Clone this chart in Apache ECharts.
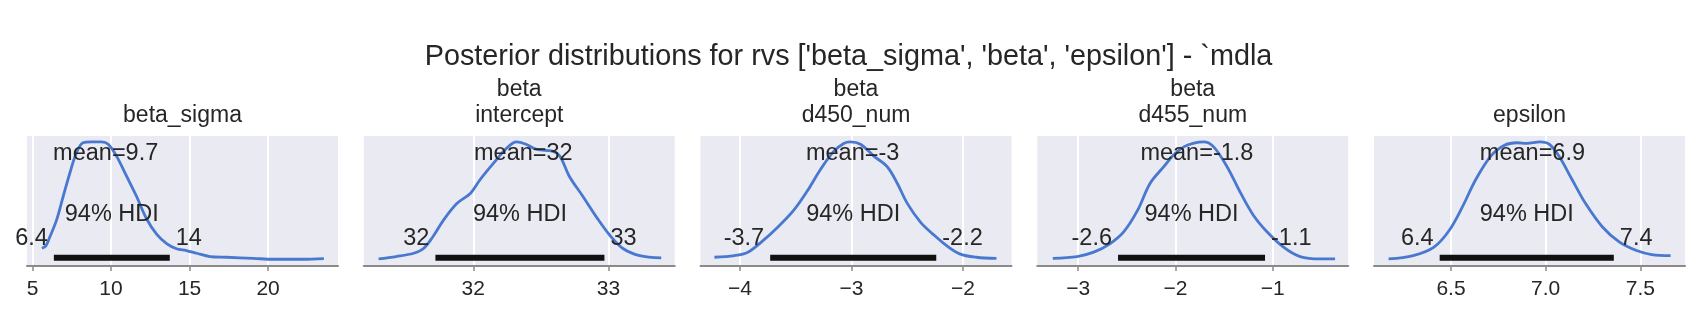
<!DOCTYPE html>
<html><head><meta charset="utf-8">
<script src="https://cdn.jsdelivr.net/npm/echarts@6/dist/echarts.min.js"></script>
<style>html,body{margin:0;padding:0;background:#fff}#c{width:1697px;height:313px}</style>
</head><body><div id="c"></div>
<script>
const mainTitle = "Posterior distributions for rvs ['beta_sigma', 'beta', 'epsilon'] - `mdla";
const panelTitles = ['beta_sigma', 'beta\nintercept', 'beta\nd450_num', 'beta\nd455_num', 'epsilon'];

// KDE curves (x value, relative density)
const betaSigmaX = [5.6, 5.85, 6.10, 6.53, 6.95, 7.38, 7.80, 8.22, 8.76, 9.39, 9.82, 10.35, 10.99, 11.62, 12.26, 12.9, 13.54, 14.17, 14.8, 15.45, 16.3, 17.36, 19.05, 20.3, 22.2, 23.55];
const betaSigmaY = [0.10, 0.12, 0.195, 0.338, 0.537, 0.737, 0.908, 0.993, 1.0, 1.0, 0.98, 0.88, 0.71, 0.54, 0.35, 0.22, 0.14, 0.096, 0.081, 0.058, 0.03, 0.024, 0.015, 0.007, 0.007, 0.013];
const interceptX = [31.30, 31.43, 31.56, 31.63, 31.70, 31.78, 31.88, 31.98, 32.05, 32.15, 32.25, 32.32, 32.39, 32.47, 32.59, 32.64, 32.71, 32.81, 32.91, 33.01, 33.11, 33.23, 33.39];
const interceptY = [0.01, 0.03, 0.058, 0.096, 0.195, 0.338, 0.48, 0.566, 0.68, 0.82, 0.95, 1.0, 0.98, 0.936, 0.92, 0.88, 0.71, 0.54, 0.366, 0.21, 0.096, 0.038, 0.019];
const d450X = [-4.23, -4.05, -3.93, -3.81, -3.66, -3.52, -3.40, -3.28, -3.16, -3.07, -3.01, -2.92, -2.80, -2.68, -2.59, -2.50, -2.38, -2.27, -2.15, -2.03, -1.88, -1.70];
const d450Y = [0.024, 0.038, 0.067, 0.152, 0.28, 0.42, 0.58, 0.765, 0.92, 0.987, 1.0, 0.98, 0.88, 0.79, 0.65, 0.48, 0.32, 0.22, 0.124, 0.053, 0.024, 0.015];
const d455X = [-3.26, -3.01, -2.84, -2.67, -2.53, -2.39, -2.26, -2.12, -2.02, -1.91, -1.81, -1.71, -1.61, -1.47, -1.33, -1.20, -1.06, -0.89, -0.72, -0.51, -0.36];
const d455Y = [0.015, 0.03, 0.067, 0.14, 0.24, 0.42, 0.65, 0.79, 0.89, 0.96, 0.99, 1.0, 0.96, 0.79, 0.566, 0.38, 0.24, 0.11, 0.03, 0.01, 0.01];
const epsilonX = [6.17, 6.30, 6.41, 6.49, 6.56, 6.63, 6.71, 6.78, 6.85, 6.90, 6.97, 7.02, 7.07, 7.14, 7.21, 7.30, 7.39, 7.48, 7.56, 7.66];
const epsilonY = [0.01, 0.038, 0.11, 0.25, 0.45, 0.68, 0.88, 0.97, 0.993, 0.987, 1.0, 0.98, 0.88, 0.68, 0.48, 0.28, 0.152, 0.081, 0.047, 0.038];

const means = [9.66, 32.37, -2.99, -1.78, 6.93];
const hdiLow = [6.36, 31.72, -3.73, -2.59, 6.44];
const hdiHigh = [13.74, 32.97, -2.24, -1.08, 7.36];
const hdiLabel = '94% HDI';

const xMin = [4.65, 31.19, -4.355, -3.42, 6.093];
const xMax = [24.45, 33.49, -1.565, -0.225, 7.736];
const xTicks = [[5, 10, 15, 20], [32, 33], [-4, -3, -2], [-3, -2, -1], [6.5, 7.0, 7.5]];
const tickDecimals = [0, 0, 0, 0, 1];

const curvesX = [betaSigmaX, interceptX, d450X, d455X, epsilonX];
const curvesY = [betaSigmaY, interceptY, d450Y, d455Y, epsilonY];

const FONT = 'Liberation Sans, Arial, sans-serif';
const TXT = '#262626';
const fmt2 = v => String(Number(v.toPrecision(2)));

const chart = echarts.init(document.getElementById('c'), null, {renderer: 'canvas'});
const gridW = 311, gridLeft0 = 27, gridStep = 336.75;
const grids = [], xAxes = [], yAxes = [], series = [], titles = [];

titles.push({
  text: mainTitle, left: 'center', top: 43, padding: 0,
  textStyle: {fontFamily: FONT, fontSize: 28.8, fontWeight: 'normal', color: TXT}
});

for (let i = 0; i < 5; i++) {
  const left = gridLeft0 + i * gridStep;
  grids.push({left: left, width: gridW, top: 136, bottom: 47, show: true,
    backgroundColor: '#EAEAF2', borderWidth: 0, containLabel: false});
  titles.push({
    text: panelTitles[i], left: left + gridW / 2, textAlign: 'center', bottom: 184, padding: 0,
    textStyle: {fontFamily: FONT, fontSize: 23, lineHeight: 26, fontWeight: 'normal', color: TXT}
  });
  const dec = tickDecimals[i];
  xAxes.push({
    type: 'value', gridIndex: i, min: xMin[i], max: xMax[i],
    axisLine: {show: true, onZero: false, lineStyle: {color: '#8a8a8a', width: 2}},
    axisTick: {show: true, customValues: xTicks[i], length: 5, lineStyle: {color: '#8a8a8a', width: 1.5}},
    axisLabel: {show: true, customValues: xTicks[i], margin: 13, fontFamily: FONT, fontSize: 21, color: TXT,
      formatter: v => (v < 0 ? '\u2212' : '') + Math.abs(v).toFixed(dec)},
    splitLine: {show: true, lineStyle: {color: '#ffffff', width: 2}}
  });
  yAxes.push({type: 'value', gridIndex: i, min: -0.05, max: 1.05, show: false, splitLine: {show: false}});

  series.push({
    type: 'line', xAxisIndex: i, yAxisIndex: i, smooth: 0.35, showSymbol: false, symbol: 'none',
    lineStyle: {color: '#4878D0', width: 2.8}, z: 2,
    data: curvesX[i].map((x, k) => [x, curvesY[i][k]])
  });
  series.push({
    type: 'line', xAxisIndex: i, yAxisIndex: i, showSymbol: false, symbol: 'none',
    lineStyle: {color: '#111111', width: 6, cap: 'butt'}, z: 3,
    data: [[hdiLow[i], 0.02], [hdiHigh[i], 0.02]]
  });
  const lbl = (align, vAlign, offset) => ({show: true, position: [0, 0], align: align, verticalAlign: vAlign,
    offset: offset, fontFamily: FONT, fontSize: 23.5, color: TXT, textBorderWidth: 0, opacity: 1,
    formatter: p => p.data.t});
  const sc = (data, label) => ({type: 'scatter', xAxisIndex: i, yAxisIndex: i, symbolSize: 0,
    itemStyle: {color: TXT}, z: 5, data: data, label: label});
  series.push(sc([{value: [means[i], 0.9], t: 'mean=' + fmt2(means[i])}], lbl('center', 'middle', [0, 0])));
  series.push(sc([{value: [(hdiLow[i] + hdiHigh[i]) / 2, 0.3], t: hdiLabel}], lbl('center', 'bottom', [0, 2])));
  series.push(sc([{value: [hdiLow[i], 0.07], t: fmt2(hdiLow[i])}], lbl('right', 'bottom', [-6, -1])));
  series.push(sc([{value: [hdiHigh[i], 0.07], t: fmt2(hdiHigh[i])}], lbl('left', 'bottom', [6, -1])));
}

chart.setOption({
  animation: false, backgroundColor: '#ffffff',
  title: titles, grid: grids, xAxis: xAxes, yAxis: yAxes, series: series,
  tooltip: {show: false}
});
</script></body></html>
